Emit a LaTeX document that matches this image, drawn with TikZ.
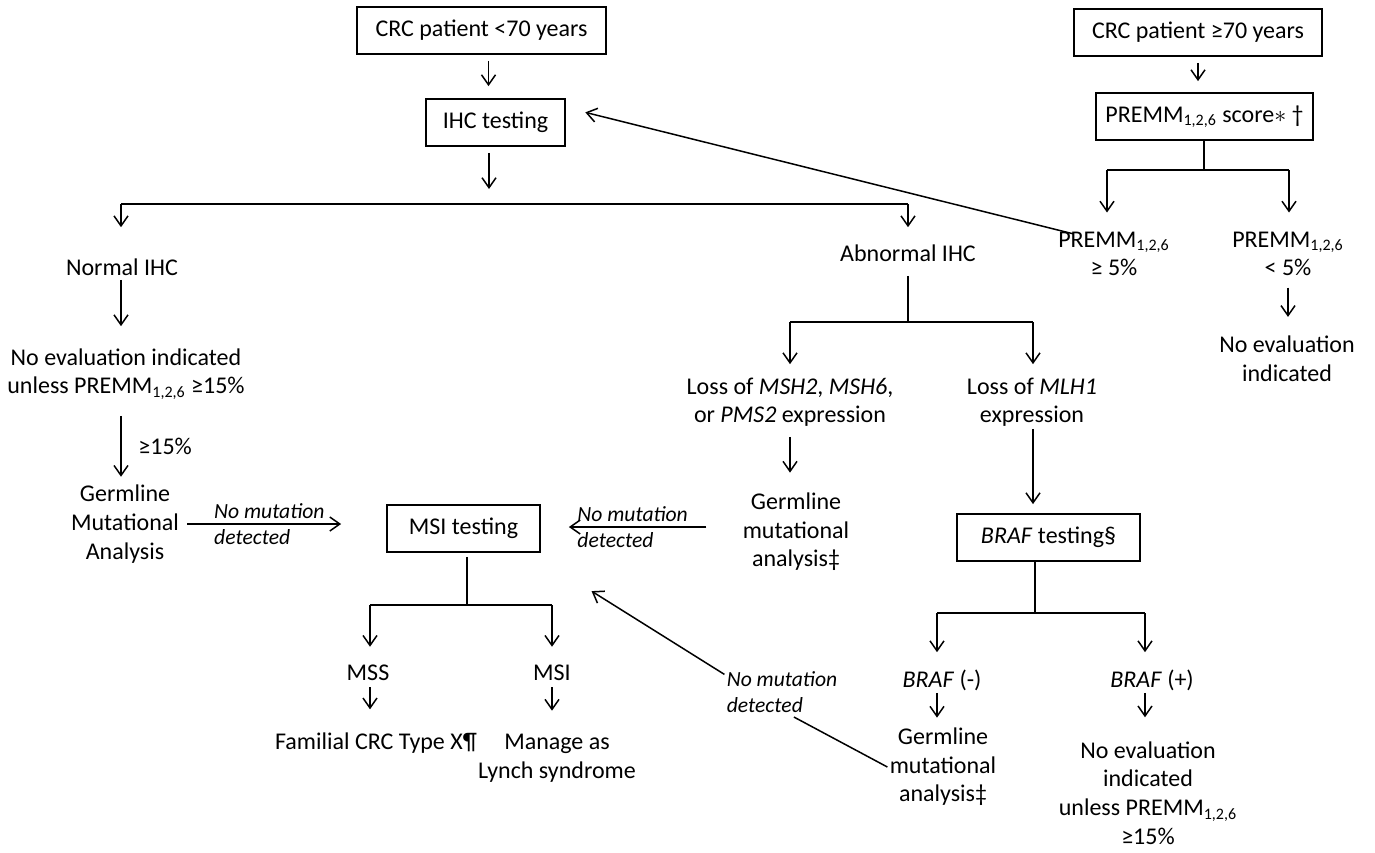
\documentclass[tikz,border=0pt]{standalone}
\usepackage{fontspec}
\setmainfont{Carlito}
\usetikzlibrary{arrows.meta}
\tikzset{
block/.style={rectangle, minimum height=23.5pt, text centered, align=center, draw=black, line width=0.9pt, inner sep=2pt},
plain/.style={align=center, inner sep=1pt},
note/.style={align=left, inner sep=1pt, font=\fontsize{10.8}{13.2}\selectfont\itshape},
arrow/.style={line width=0.75pt,->,>={Straight Barb[length=5pt,width=7pt]}},
noarrow/.style={line width=0.75pt}}
\newcommand{\premm}{PREMM\textsubscript{1,2,6}}

\begin{document}
\begin{tikzpicture}[x=0.5pt, y=-0.5pt, font=\fontsize{12}{14.3}\selectfont]
\useasboundingbox (0,0) rectangle (1375,852);

% under 70
\node (young) [block, minimum width=124.5pt] at (481.5,30.5) {CRC patient <70 years};
\node (ihc) [block, minimum width=69.5pt] at (495.5,122.5) {IHC testing};
\coordinate (ihcbar) at (489,204);
\coordinate (ihcL) at (121,204);
\coordinate (ihcR) at (908,204);
\node (normal) [plain] at (122,267) {Normal IHC};
\node (noeval1) [plain] at (126,374) {No evaluation indicated\\unless \premm{} ≥15\%};
\node (germ1) [plain] at (125,524) {Germline\\Mutational\\Analysis};
\node (msi) [block, minimum width=76.5pt] at (463.5,528.5) {MSI testing};

% abnormal IHC
\node (abnormal) [plain] at (908,253) {Abnormal IHC};
\coordinate (abnL) at (790,322);
\coordinate (abnR) at (1033,322);
\node (loss1) [plain] at (790,402) {Loss of \textit{MSH2}, \textit{MSH6},\\or \textit{PMS2} expression};
\node (loss2) [plain] at (1032,402) {Loss of \textit{MLH1}\\expression};
\node (germ2) [plain] at (796,532) {Germline\\mutational\\analysis‡};
\node (braf) [block, minimum width=91.5pt] at (1048.5,537.5) {\textit{BRAF} testing§};
\coordinate (brafbar) at (1035,613);
\coordinate (brafL) at (937,613);
\coordinate (brafR) at (1145,613);
\node (brafneg) [plain] at (942,680) {\textit{BRAF} (-)};
\node (brafpos) [plain] at (1152,680) {\textit{BRAF} (+)};
\node (germ3) [plain] at (943,767) {Germline\\mutational\\analysis‡};
\node (noeval3) [plain] at (1148,793) {No evaluation\\indicated\\unless \premm\\≥15\%};

% MSI testing
\coordinate (msibar) at (467,605);
\coordinate (msiL) at (370,605);
\coordinate (msiR) at (552,605);
\node (mss) [plain] at (368,673) {MSS};
\node (msires) [plain] at (552,673) {MSI};
\node (familial) [plain] at (376,743) {Familial CRC Type X¶};
\node (lynch) [plain] at (557,758) {Manage as\\Lynch syndrome};
\node (nomut3) [note] at (782,692) {No mutation\\detected};

% 70 and over
\node (old) [block, minimum width=124pt] at (1198,32.5) {CRC patient ≥70 years};
\node (premm) [block, minimum width=108.5pt] at (1204.5,116.5) {\premm{} score$\ast$ †};
\coordinate (premmbar) at (1204,170);
\coordinate (premmL) at (1107,170);
\coordinate (premmR) at (1289,170);
\node (high) [plain] at (1114,254) {\premm\\≥ 5\%};
\node (low) [plain] at (1288,254) {\premm\\< 5\%};
\node (noeval2) [plain] at (1287,359) {No evaluation\\indicated};

% connectors
\draw [arrow, shorten <=3pt, shorten >=6pt] ([xshift=3.5pt]young.south) -- ([xshift=-3.5pt]ihc.north);
\draw [arrow, shorten <=3pt, shorten >=7.5pt] (ihc.south -| ihcbar) -- (ihcbar);
\draw [noarrow] (ihcL) -- (ihcR);
\draw [arrow, shorten >=14.5pt] (ihcL) -- (ihcL |- normal.north);
\draw [arrow, shorten >=7.5pt] (ihcR) -- (abnormal);
\draw [arrow, shorten <=1pt, shorten >=10pt] (normal.south -| ihcL) -- (ihcL |- noeval1.north);
\draw [arrow, shorten <=7pt, shorten >=3pt] (noeval1.south -| ihcL) -- (ihcL |- germ1.north)
  node [pos=0.55, right=5pt] {≥15\%};
\draw [arrow, shorten <=3pt, shorten >=22.5pt] (germ1) -- (germ1 -| msi.west)
  node [note, pos=0.43] {No mutation\\detected};
\draw [arrow, shorten <=17pt, shorten >=14pt] ([yshift=2.5pt]germ2.west) -- ([yshift=2.5pt]germ2.west -| msi.east)
  node [note, pos=0.54] {No mutation\\detected};

\draw [noarrow, shorten <=6pt] (abnormal) -- (abnormal |- abnL);
\draw [noarrow] (abnL) -- (abnR);
\draw [arrow, shorten >=5.5pt] (abnL) -- (abnL |- loss1.north);
\draw [arrow, shorten >=5.5pt] (abnR) -- (abnR |- loss2.north);
\draw [arrow, shorten <=4pt, shorten >=9pt] (loss1.south -| abnL) -- (abnL |- germ2.north);
\draw [arrow, shorten >=4.5pt] (loss2.south -| abnR) -- (abnR |- braf.north);
\draw [noarrow] (braf.south -| brafbar) -- (brafbar);
\draw [noarrow] (brafL) -- (brafR);
\draw [arrow, shorten >=7.5pt] (brafL) -- (brafL |- brafneg.north);
\draw [arrow, shorten >=7.5pt] (brafR) -- (brafR |- brafpos.north);
\draw [arrow, shorten >=4pt] (brafneg.south -| brafL) -- (brafL |- germ3.north);
\draw [arrow, shorten >=11pt] (brafpos.south -| brafR) -- (brafR |- noeval3.north);

\draw [noarrow, shorten <=2pt] (msi.south -| msibar) -- (msibar);
\draw [noarrow] (msiL) -- (msiR);
\draw [arrow, shorten >=8pt] (msiL) -- (msiL |- mss.north);
\draw [arrow, shorten >=8pt] (msiR) -- (msiR |- msires.north);
\draw [arrow, shorten <=2pt, shorten >=10.5pt] (mss.south -| msiL) -- (msiL |- familial.north);
\draw [arrow, shorten <=2pt, shorten >=10.5pt] (msires.south -| msiR) -- (msiR |- lynch.north);

\draw [noarrow, shorten >=2pt] (germ3.west) -- (nomut3.-70);
\draw [arrow, shorten >=36pt] (nomut3.163) -- (msi.-20);

\draw [arrow, shorten <=3pt, shorten >=5.5pt] (old) -- (old |- premm.north);
\draw [noarrow] (premm.south -| premmbar) -- (premmbar);
\draw [noarrow] (premmL) -- (premmR);
\draw [arrow, shorten >=8.5pt] (premmL) -- (premmL |- high.north);
\draw [arrow, shorten >=8.5pt] (premmR) -- (premmR |- low.north);
\draw [arrow, shorten <=4.5pt, shorten >=8.5pt] (low) -- (low |- noeval2.north);
\draw [arrow, shorten <=-9pt, shorten >=10pt] (high.north west) -- (ihc.12);
\end{tikzpicture}
\end{document}
